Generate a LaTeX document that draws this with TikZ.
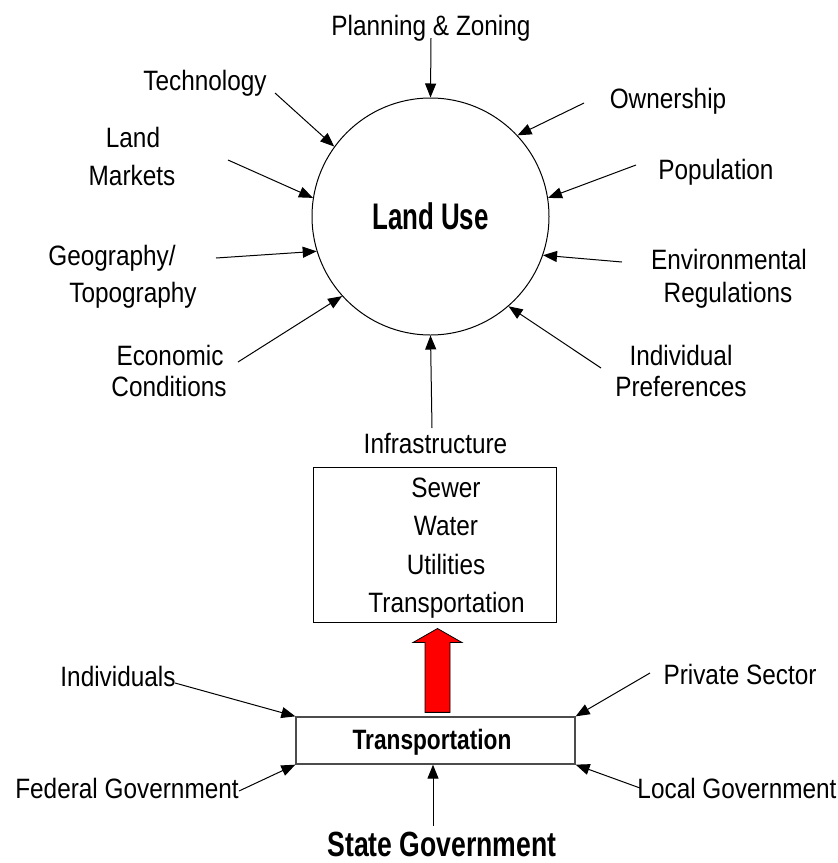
\documentclass[tikz,border=0pt]{standalone}
\usepackage{fontspec}
\setmainfont{Liberation Sans}[FakeStretch=0.87]
\newfontfamily\fontLU{Liberation Sans}[FakeStretch=0.70]
\newfontfamily\fontTR{Liberation Sans}[FakeStretch=0.81]
\newfontfamily\fontSG{Liberation Sans}[FakeStretch=0.76]
\usetikzlibrary{arrows.meta,calc}
\begin{document}
\begin{tikzpicture}[x=1pt,y=-1pt,
  lbl/.style={font=\fontsize{28}{30}\selectfont, anchor=base, inner sep=0pt},
  arr/.style={-{Triangle[length=14pt,width=11pt]}, line width=1pt},
  bigarrow/.style={fill=red, draw=black, line width=0.8pt, line join=miter}]
\useasboundingbox (0,0) rectangle (838,863);

% central circle
\node[circle, draw, line width=1pt, minimum size=237pt, inner sep=0pt,
      font=\fontLU\bfseries\fontsize{37}{40}\selectfont] (lu) at (430.5,216.5) {Land Use};

% surrounding labels
\node[lbl] (plan) at (431,35) {Planning \& Zoning};
\node[lbl] (tech) at (205,90) {Technology};
\node[lbl] (land1) at (133,147) {Land};
\node[lbl] (land2) at (132,185) {Markets};
\node[lbl] (geo1) at (112,265) {Geography/};
\node[lbl] (geo2) at (133,302) {Topography};
\node[lbl] (eco1) at (170,365) {Economic};
\node[lbl] (eco2) at (169,396) {Conditions};
\node[lbl] (own) at (668,108) {Ownership};
\node[lbl] (pop) at (716,179) {Population};
\node[lbl] (env1) at (729,269) {Environmental};
\node[lbl] (env2) at (728,302) {Regulations};
\node[lbl] (ind1) at (681,365) {Individual};
\node[lbl] (ind2) at (681,396) {Preferences};
\node[lbl] (infl) at (435.5,453) {Infrastructure};

% arrow start points
\coordinate (sPlan) at (431,38);
\coordinate (sTech) at (275,93);
\coordinate (sLand) at (228,160);
\coordinate (sGeo) at (216,258);
\coordinate (sEco) at (238,362);
\coordinate (sInf) at (432,428);
\coordinate (sOwn) at (584,103);
\coordinate (sPop) at (636,165);
\coordinate (sEnv) at (622,262);
\coordinate (sInd) at (601,368);

\draw[arr] (sPlan) -- (lu.90);
\draw[arr] (sTech) -- (lu.144);
\draw[arr] (sLand) -- (lu.171);
\draw[arr] (sGeo) -- (lu.197);
\draw[arr] (sEco) -- (lu.222);
\draw[arr] (sInf) -- (lu.270);
\draw[arr] (sOwn) -- (lu.43);
\draw[arr] (sPop) -- (lu.9);
\draw[arr] (sEnv) -- (lu.341);
\draw[arr] (sInd) -- (lu.311);

% infrastructure box
\node[draw, line width=1pt, minimum width=243pt, minimum height=155pt, inner sep=0pt] (infra) at (434.5,544.5) {};
\node[lbl] (sew) at (446,497) {Sewer};
\node[lbl] (wat) at (446,535) {Water};
\node[lbl] (uti) at (446,574) {Utilities};
\node[lbl] (tra) at (446.5,612) {Transportation};

% transportation box
\node[draw=black!70, line width=1.3pt, minimum width=279pt, minimum height=47pt, inner sep=0pt] (trans) at (435.5,740.5) {};
\node[lbl, font=\fontTR\bfseries\fontsize{28}{30}\selectfont] (transT) at (432,749) {Transportation};

% red arrow
\coordinate (ab) at ($(trans.north)+(2,-4)$);
\coordinate (at) at ($(infra.south)+(3,6)$);
\draw[bigarrow] ($(ab)+(-12.5,0)$) -- ($(at)+(-12.5,14)$) -- ($(at)+(-24.5,14)$) -- (at)
  -- ($(at)+(24.5,14)$) -- ($(at)+(12.5,14)$) -- ($(ab)+(12.5,0)$) -- cycle;

% bottom labels
\node[lbl] (indv) at (118,686) {Individuals};
\node[lbl] (fed) at (127,798) {Federal Government};
\node[lbl] (priv) at (740,684) {Private Sector};
\node[lbl] (loc) at (737,798) {Local Government};
\node[lbl, font=\fontSG\bfseries\fontsize{35}{38}\selectfont] (state) at (442,856) {State Government};

\coordinate (sIndv) at (175,683);
\coordinate (sFed) at (239,791);
\coordinate (sPriv) at (650,673);
\coordinate (sLoc) at (640,788);
\coordinate (sState) at (433,826);

\draw[arr] (sIndv) -- (trans.north west);
\draw[arr] (sFed) -- (trans.south west);
\draw[arr] (sPriv) -- (trans.north east);
\draw[arr] (sLoc) -- (trans.south east);
\draw[arr] (sState) -- (sState |- trans.south);
\end{tikzpicture}
\end{document}
